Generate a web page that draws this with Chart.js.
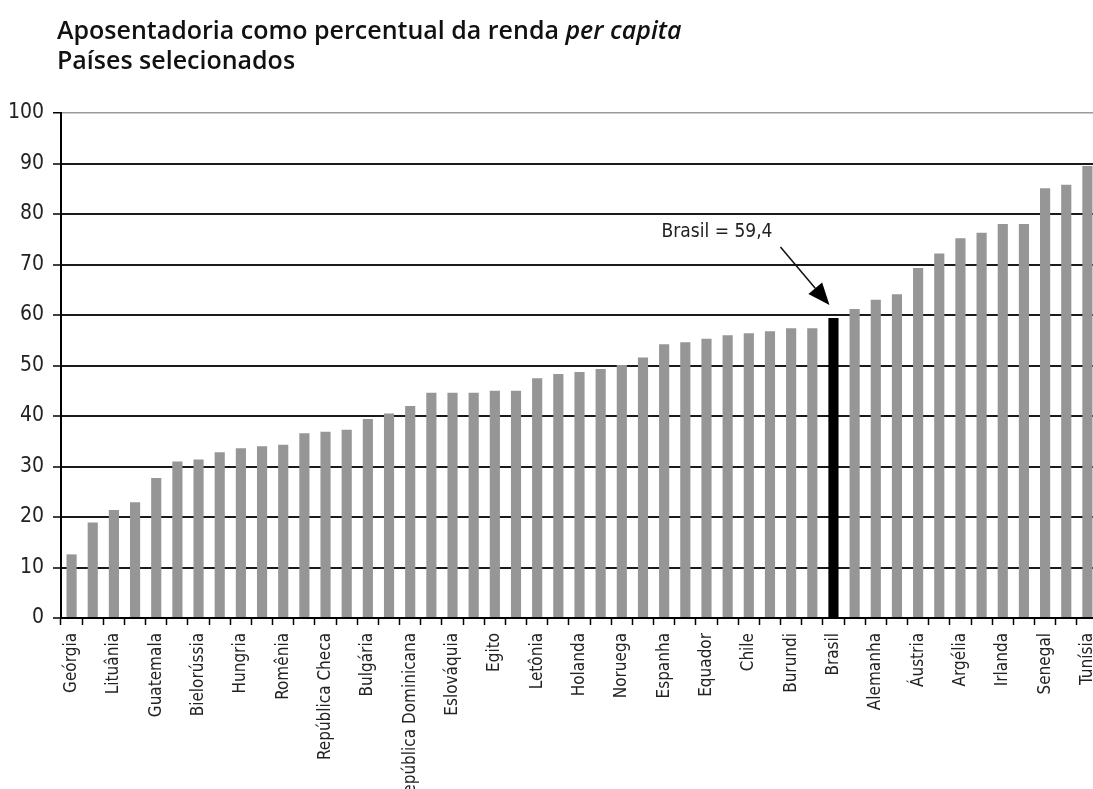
<!DOCTYPE html>
<html lang="pt-BR">
<head>
<meta charset="utf-8">
<title>Aposentadoria como percentual da renda per capita</title>
<script src="https://cdn.jsdelivr.net/npm/chart.js@4.4.1/dist/chart.umd.min.js"></script>
<style>
  html, body { margin: 0; padding: 0; background: #fff; overflow: hidden; }
  #wrap { position: relative; width: 1098px; height: 789px; }
  #titulo {
    position: absolute; left: 57px; top: 14px;
    font: 600 25px 'Open Sans', sans-serif; line-height: 30px; color: #111;
  }
  canvas { position: absolute; left: 0; top: 0; }
</style>
</head>
<body>
<div id="wrap">
  <canvas id="chart" width="1098" height="789"></canvas>
  <div id="titulo">Aposentadoria como percentual da renda <i>per capita</i><br>Países selecionados</div>
</div>
<script>
// países (só um a cada dois tem nome no eixo)
const categories = [
  'Geórgia', '', 'Lituânia', '', 'Guatemala', '', 'Bielorússia', '', 'Hungria', '',
  'Romênia', '', 'República Checa', '', 'Bulgária', '', 'República Dominicana', '', 'Eslováquia', '',
  'Egito', '', 'Letônia', '', 'Holanda', '', 'Noruega', '', 'Espanha', '',
  'Equador', '', 'Chile', '', 'Burundi', '', 'Brasil', '', 'Alemanha', '',
  'Áustria', '', 'Argélia', '', 'Irlanda', '', 'Senegal', '', 'Tunísia'
];

// aposentadoria como % da renda per capita
const values = [
  12.6, 18.9, 21.4, 22.9, 27.7, 31.0, 31.4, 32.8, 33.6, 34.0,
  34.3, 36.6, 36.9, 37.3, 39.4, 40.5, 42.0, 44.6, 44.6, 44.6,
  45.0, 45.0, 47.5, 48.3, 48.7, 49.3, 50.1, 51.6, 54.2, 54.6,
  55.3, 56.0, 56.4, 56.8, 57.4, 57.4, 59.4, 61.2, 63.0, 64.1,
  69.3, 72.2, 75.2, 76.3, 78.0, 78.0, 85.1, 85.8, 89.5
];

const yTicks = [0, 10, 20, 30, 40, 50, 60, 70, 80, 90, 100];
const destaque = 'Brasil';

const CINZA = '#969696';
const TICK_FONT = '"Liberation Sans Narrow", "DejaVu Sans Condensed", sans-serif';

const barColors = categories.map(c => c === destaque ? '#000000' : CINZA);

// seta com o valor do Brasil
const brasilArrow = {
  id: 'brasilArrow',
  afterDatasetsDraw(chart) {
    const idx = categories.indexOf(destaque);
    const x = chart.scales.x.getPixelForValue(idx);
    const y = chart.scales.y.getPixelForValue(values[idx]);
    const ctx = chart.ctx;

    const tipX = x - 4, tipY = y - 13;
    const startX = tipX - 49, startY = tipY - 58;
    const ang = Math.atan2(tipY - startY, tipX - startX);
    const headLen = 22, headW = 9;
    const baseX = tipX - headLen * Math.cos(ang);
    const baseY = tipY - headLen * Math.sin(ang);

    ctx.save();
    ctx.strokeStyle = '#111';
    ctx.fillStyle = '#000';
    ctx.lineWidth = 1.5;
    ctx.beginPath();
    ctx.moveTo(startX, startY);
    ctx.lineTo(baseX, baseY);
    ctx.stroke();

    ctx.beginPath();
    ctx.moveTo(tipX, tipY);
    ctx.lineTo(baseX + headW * Math.sin(ang), baseY - headW * Math.cos(ang));
    ctx.lineTo(baseX - headW * Math.sin(ang), baseY + headW * Math.cos(ang));
    ctx.closePath();
    ctx.fill();

    ctx.font = '19px ' + TICK_FONT;
    ctx.fillStyle = '#222';
    ctx.textAlign = 'right';
    ctx.textBaseline = 'alphabetic';
    const txt = destaque + ' = ' + values[idx].toFixed(1).replace('.', ',');
    ctx.fillText(txt, startX - 8, startY - 10);
    ctx.restore();
  }
};

new Chart(document.getElementById('chart'), {
  type: 'bar',
  data: {
    labels: categories,
    datasets: [{
      data: values,
      backgroundColor: barColors,
      borderWidth: 0,
      barPercentage: 0.48,
      categoryPercentage: 1.0
    }]
  },
  options: {
    responsive: false,
    animation: false,
    devicePixelRatio: 1,
    layout: { padding: { top: 113, left: 0, right: 0, bottom: 0 } },
    plugins: {
      legend: { display: false },
      tooltip: { enabled: false },
      title: { display: false }
    },
    scales: {
      x: {
        offset: true,
        grid: {
          offset: true,
          drawOnChartArea: false,
          drawTicks: true,
          tickLength: 7,
          tickColor: '#000',
          tickWidth: 1.5
        },
        border: { display: true, color: '#000', width: 2 },
        ticks: {
          autoSkip: false,
          minRotation: 90,
          maxRotation: 90,
          padding: 8,
          color: '#222',
          font: { family: TICK_FONT, size: 17 }
        },
        afterFit(scale) {
          scale.height = 171;
          scale.paddingLeft = 0;
          scale.paddingRight = 0;
        }
      },
      y: {
        min: 0,
        max: 100,
        afterBuildTicks(scale) {
          scale.ticks = yTicks.map(v => ({ value: v }));
        },
        grid: {
          color: ctx => ctx.tick && ctx.tick.value === 100 ? '#9a9a9a' : '#1a1a1a',
          lineWidth: ctx => ctx.tick && ctx.tick.value === 100 ? 1.5 : 2,
          drawTicks: true,
          tickLength: 8,
          tickColor: '#000',
          tickWidth: 1.5
        },
        border: { display: true, color: '#000', width: 2 },
        ticks: {
          padding: 9,
          color: '#222',
          font: { family: TICK_FONT, size: 21 }
        },
        afterFit(scale) {
          scale.width = 61;
          scale.paddingTop = 0;
          scale.paddingBottom = 0;
        }
      }
    }
  },
  plugins: [brasilArrow]
});
</script>
</body>
</html>
